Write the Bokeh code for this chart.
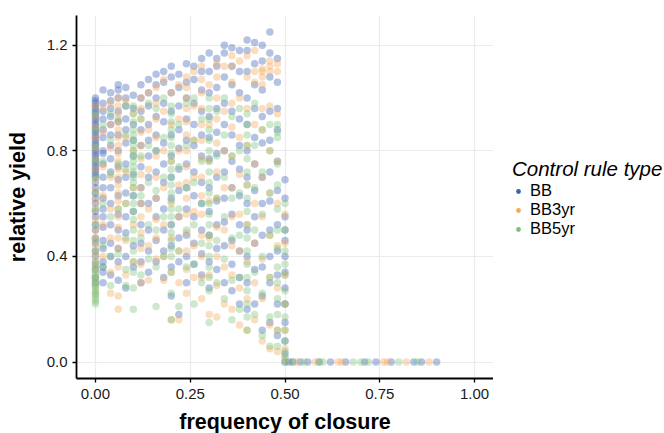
from bokeh.plotting import figure
from bokeh.layouts import row
from bokeh.models import Legend, LegendItem, ColumnDataSource, FixedTicker, Range1d, PrintfTickFormatter
from bokeh.embed import file_html
from bokeh.resources import INLINE

# ---------------- data ----------------
# each entry: (frequency of closure, [relative yields at that frequency])
bb_cols = [
    (0.00, [1.0, 0.99, 0.98, 0.97, 0.96, 0.95, 0.94, 0.93, 0.92, 0.91, 0.90, 0.89, 0.88, 0.87, 0.86, 0.85, 0.84, 0.83, 0.82, 0.81, 0.80, 0.79, 0.78, 0.77, 0.76, 0.75, 0.74, 0.73, 0.72, 0.71, 0.70, 0.68, 0.66, 0.64, 0.62, 0.60, 0.57, 0.55, 0.52, 0.50, 0.47, 0.45, 0.42, 0.40, 0.37, 0.35, 0.32, 0.30]),
    (0.02, [1.03, 0.98, 0.95, 0.92, 0.88, 0.85, 0.80, 0.79, 0.75, 0.70, 0.66, 0.62, 0.58, 0.55, 0.51, 0.46, 0.43, 0.38, 0.36, 0.34, 0.30]),
    (0.04, [1.02, 0.99, 0.96, 0.93, 0.90, 0.86, 0.82, 0.77, 0.72, 0.66, 0.60, 0.52, 0.45, 0.40, 0.33]),
    (0.06, [1.05, 1.03, 1.0, 0.95, 0.91, 0.86, 0.80, 0.74, 0.69, 0.63, 0.56, 0.50, 0.43, 0.38, 0.31]),
    (0.08, [1.04, 1.0, 0.97, 0.92, 0.88, 0.83, 0.75, 0.70, 0.64, 0.55, 0.49, 0.40, 0.28]),
    (0.10, [1.01, 0.96, 0.90, 0.84, 0.78, 0.71, 0.63, 0.57, 0.44, 0.36]),
    (0.12, [1.05, 1.0, 0.95, 0.88, 0.82, 0.74, 0.66, 0.60, 0.52, 0.45, 0.38, 0.30]),
    (0.14, [1.07, 1.02, 0.97, 0.90, 0.84, 0.78, 0.70, 0.60, 0.50, 0.42, 0.34]),
    (0.16, [1.09, 1.05, 1.0, 0.93, 0.86, 0.80, 0.72, 0.62, 0.55, 0.46, 0.38]),
    (0.18, [1.10, 1.06, 0.98, 0.91, 0.83, 0.75, 0.68, 0.58, 0.50, 0.42, 0.32]),
    (0.20, [1.12, 1.08, 1.02, 0.95, 0.86, 0.78, 0.70, 0.62, 0.52, 0.44, 0.36, 0.25]),
    (0.22, [1.09, 1.04, 0.97, 0.88, 0.81, 0.73, 0.65, 0.55, 0.47, 0.38, 0.18]),
    (0.24, [1.13, 1.06, 1.0, 0.92, 0.84, 0.75, 0.66, 0.58, 0.48, 0.40, 0.30]),
    (0.26, [1.12, 1.07, 0.98, 0.90, 0.82, 0.72, 0.63, 0.55, 0.45, 0.37]),
    (0.28, [1.15, 1.10, 1.03, 0.95, 0.86, 0.78, 0.68, 0.60, 0.50, 0.41, 0.33]),
    (0.30, [1.17, 1.10, 1.02, 0.93, 0.85, 0.77, 0.66, 0.57, 0.48, 0.38, 0.28]),
    (0.32, [1.15, 1.12, 1.04, 0.96, 0.87, 0.79, 0.70, 0.61, 0.52, 0.43, 0.35]),
    (0.34, [1.20, 1.17, 1.08, 0.98, 0.90, 0.80, 0.72, 0.62, 0.53, 0.44, 0.30]),
    (0.36, [1.19, 1.12, 1.05, 0.95, 0.86, 0.76, 0.66, 0.56, 0.46, 0.37, 0.27]),
    (0.38, [1.18, 1.10, 1.02, 0.92, 0.82, 0.73, 0.63, 0.52, 0.42, 0.32, 0.22]),
    (0.40, [1.22, 1.18, 1.10, 1.0, 0.90, 0.80, 0.70, 0.60, 0.50, 0.40, 0.30, 0.20]),
    (0.42, [1.21, 1.13, 1.05, 0.96, 0.85, 0.75, 0.65, 0.55, 0.45, 0.35, 0.22]),
    (0.44, [1.20, 1.14, 1.03, 0.93, 0.83, 0.70, 0.60, 0.48, 0.36, 0.25, 0.12]),
    (0.46, [1.25, 1.17, 1.08, 0.95, 0.84, 0.72, 0.61, 0.50, 0.40, 0.30, 0.15]),
    (0.48, [1.15, 1.06, 0.96, 0.88, 0.76, 0.65, 0.52, 0.42, 0.33, 0.22, 0.10]),
    (0.50, [0.69, 0.62, 0.55, 0.50, 0.46, 0.40, 0.34, 0.28, 0.22, 0.15, 0.08, 0.03, 0.0]),
]
bb_zero_x = [0.51, 0.52, 0.54, 0.56, 0.59, 0.62, 0.66, 0.71, 0.74, 0.78, 0.84, 0.86, 0.90]

bb3_cols = [
    (0.00, [0.97, 0.93, 0.89, 0.85, 0.81, 0.77, 0.73, 0.69, 0.65, 0.61, 0.58, 0.54, 0.50, 0.47, 0.44, 0.41, 0.38, 0.35, 0.32, 0.29, 0.26]),
    (0.02, [0.96, 0.87, 0.74, 0.63, 0.52, 0.40]),
    (0.04, [0.98, 0.90, 0.81, 0.70, 0.58, 0.47, 0.34, 0.26]),
    (0.06, [1.0, 0.97, 0.94, 0.91, 0.88, 0.85, 0.82, 0.79, 0.76, 0.73, 0.70, 0.67, 0.64, 0.61, 0.58, 0.55, 0.51, 0.47, 0.43, 0.36, 0.25, 0.20]),
    (0.08, [0.99, 0.85, 0.72, 0.60, 0.46, 0.33]),
    (0.10, [0.94, 0.80, 0.66, 0.52, 0.38]),
    (0.12, [1.0, 0.96, 0.92, 0.87, 0.82, 0.77, 0.71, 0.66, 0.60, 0.55, 0.49, 0.43, 0.37, 0.30]),
    (0.14, [1.02, 0.88, 0.73, 0.58, 0.44, 0.31]),
    (0.16, [1.04, 0.98, 0.92, 0.85, 0.78, 0.70, 0.62, 0.54, 0.47, 0.39]),
    (0.18, [1.07, 0.95, 0.80, 0.66, 0.52, 0.40, 0.31]),
    (0.20, [1.02, 0.90, 0.76, 0.60, 0.47, 0.34, 0.16]),
    (0.22, [1.05, 0.92, 0.80, 0.67, 0.55, 0.42, 0.30, 0.16]),
    (0.24, [1.08, 1.04, 1.0, 0.96, 0.91, 0.86, 0.80, 0.74, 0.68, 0.62, 0.56, 0.49, 0.42, 0.35, 0.26]),
    (0.26, [1.10, 0.97, 0.84, 0.70, 0.57, 0.44, 0.32]),
    (0.28, [1.12, 1.07, 1.02, 0.96, 0.90, 0.84, 0.77, 0.70, 0.63, 0.56, 0.48, 0.40, 0.32, 0.24]),
    (0.30, [1.05, 0.90, 0.76, 0.61, 0.47, 0.33, 0.18]),
    (0.32, [1.13, 1.08, 1.0, 0.92, 0.83, 0.72, 0.62, 0.51, 0.40, 0.29, 0.17]),
    (0.34, [1.12, 0.95, 0.80, 0.66, 0.50, 0.36, 0.22]),
    (0.36, [1.16, 1.12, 1.06, 0.98, 0.89, 0.78, 0.66, 0.55, 0.44, 0.33, 0.20]),
    (0.38, [1.14, 1.00, 0.85, 0.71, 0.56, 0.42, 0.28, 0.14]),
    (0.40, [1.16, 1.08, 0.96, 0.82, 0.67, 0.52, 0.38, 0.24, 0.12]),
    (0.42, [1.18, 1.10, 1.06, 0.90, 0.75, 0.60, 0.45, 0.30, 0.16]),
    (0.44, [1.11, 1.10, 1.08, 1.05, 0.96, 0.88, 0.70, 0.55, 0.39, 0.24, 0.08]),
    (0.46, [1.14, 1.12, 1.10, 0.97, 0.80, 0.64, 0.48, 0.32, 0.14, 0.05]),
    (0.48, [1.13, 1.10, 0.94, 0.76, 0.60, 0.44, 0.28, 0.12, 0.04]),
    (0.50, [0.56, 0.45, 0.33, 0.22, 0.12, 0.05, 0.01]),
]
bb3_zero_x = [0.53, 0.58, 0.64, 0.65, 0.76, 0.77, 0.82, 0.88]

bb5_cols = [
    (0.00, [0.94, 0.88, 0.82, 0.76, 0.70, 0.64, 0.58, 0.52, 0.46, 0.42, 0.38, 0.36, 0.34, 0.33, 0.32, 0.31, 0.30, 0.29, 0.28, 0.27, 0.26, 0.25, 0.24, 0.23, 0.22]),
    (0.02, [0.90, 0.76, 0.60, 0.44, 0.36]),
    (0.04, [0.94, 0.84, 0.71, 0.55, 0.40, 0.29]),
    (0.06, [0.92, 0.75, 0.58, 0.41]),
    (0.08, [0.97, 0.86, 0.73, 0.60, 0.47, 0.35, 0.29]),
    (0.10, [0.97, 0.94, 0.91, 0.88, 0.86, 0.84, 0.82, 0.80, 0.78, 0.76, 0.74, 0.72, 0.70, 0.68, 0.66, 0.63, 0.60, 0.57, 0.54, 0.50, 0.46, 0.42, 0.38, 0.34, 0.28, 0.20]),
    (0.12, [0.92, 0.78, 0.63, 0.47, 0.33]),
    (0.14, [0.98, 0.82, 0.68, 0.52, 0.39]),
    (0.16, [0.96, 0.80, 0.65, 0.50, 0.36, 0.21]),
    (0.18, [1.0, 0.85, 0.70, 0.55, 0.40]),
    (0.20, [0.97, 0.94, 0.91, 0.88, 0.85, 0.82, 0.79, 0.76, 0.73, 0.70, 0.67, 0.64, 0.61, 0.58, 0.55, 0.52, 0.49, 0.46, 0.43, 0.40, 0.34, 0.26, 0.16]),
    (0.22, [0.90, 0.74, 0.58, 0.42, 0.21]),
    (0.24, [0.98, 0.82, 0.66, 0.50, 0.36]),
    (0.26, [1.0, 0.84, 0.68, 0.52, 0.37, 0.22]),
    (0.28, [0.92, 0.76, 0.60, 0.45, 0.30]),
    (0.30, [1.0, 0.96, 0.92, 0.88, 0.84, 0.80, 0.76, 0.72, 0.68, 0.64, 0.60, 0.56, 0.52, 0.48, 0.44, 0.40, 0.36, 0.32, 0.27, 0.15]),
    (0.32, [0.95, 0.78, 0.62, 0.46, 0.30]),
    (0.34, [1.0, 0.86, 0.70, 0.55, 0.39, 0.24]),
    (0.36, [0.93, 0.78, 0.62, 0.47, 0.31, 0.16]),
    (0.38, [0.96, 0.80, 0.64, 0.48, 0.32, 0.20]),
    (0.40, [0.94, 0.90, 0.86, 0.82, 0.77, 0.72, 0.67, 0.62, 0.57, 0.52, 0.47, 0.42, 0.37, 0.32, 0.27, 0.22, 0.17, 0.12]),
    (0.42, [0.98, 0.82, 0.66, 0.50, 0.34, 0.18]),
    (0.44, [0.88, 0.72, 0.56, 0.40, 0.26, 0.10]),
    (0.46, [0.90, 0.80, 0.64, 0.48, 0.32, 0.17, 0.06]),
    (0.48, [0.90, 0.87, 0.85, 0.75, 0.67, 0.58, 0.50, 0.43, 0.36, 0.30, 0.24, 0.18, 0.12, 0.06]),
    (0.50, [0.60, 0.50, 0.42, 0.37, 0.33, 0.27, 0.22, 0.17, 0.12, 0.08, 0.04, 0.02, 0.0]),
]
bb5_zero_x = [0.52, 0.55, 0.59, 0.60, 0.68, 0.70, 0.72, 0.80, 0.85]

series_names = ["BB", "BB3yr", "BB5yr"]
series_colors = ["#3a62b8", "#f4a95a", "#7dc27b"]
x_ticks = [0.0, 0.25, 0.5, 0.75, 1.0]
y_ticks = [0.0, 0.4, 0.8, 1.2]


def flatten(cols, zero_x):
    xs, ys = [], []
    for x, yl in cols:
        xs += [x] * len(yl)
        ys += list(yl)
    xs += list(zero_x)
    ys += [0.0] * len(zero_x)
    return xs, ys


FONT = "Liberation Sans"

p = figure(frame_width=417, frame_height=363, output_backend="svg", toolbar_location=None,
           x_range=Range1d(-0.05, 1.05), y_range=Range1d(-0.0625, 1.3125),
           min_border_left=76, min_border_top=15, min_border_bottom=54, min_border_right=0)
p.outline_line_color = None
p.background_fill_color = "white"

# legend-only panel on the right (its ranges keep the data out of view)
lg = figure(width=170, height=432, output_backend="svg", toolbar_location=None,
            x_range=Range1d(5, 6), y_range=Range1d(5, 6),
            min_border_left=0, min_border_right=0, min_border_top=0, min_border_bottom=0)
lg.axis.visible = False
lg.grid.visible = False
lg.outline_line_color = None

all_series = [(bb_cols, bb_zero_x), (bb3_cols, bb3_zero_x), (bb5_cols, bb5_zero_x)]
items = []
for (cols, zx), name, col in zip(all_series, series_names, series_colors):
    xs, ys = flatten(cols, zx)
    src = ColumnDataSource(dict(x=xs, y=ys))
    p.scatter("x", "y", source=src, size=7.5, fill_color=col, fill_alpha=0.38, line_color=None)
    key = lg.scatter("x", "y", source=src, size=6, fill_color=col, fill_alpha=1.0, line_color=None)
    items.append(LegendItem(label=name, renderers=[key]))

# axes
for ax in (p.xaxis[0], p.yaxis[0]):
    ax.axis_line_color = "black"
    ax.axis_line_width = 1.8
    ax.major_tick_line_color = "black"
    ax.major_tick_line_width = 1.3
    ax.major_tick_out = 4
    ax.major_tick_in = 0
    ax.minor_tick_line_color = None
    ax.major_label_text_font = FONT
    ax.major_label_text_font_size = "15px"
    ax.major_label_text_color = "#1a1a1a"
    ax.axis_label_text_font = FONT
    ax.axis_label_text_font_style = "bold"
    ax.axis_label_text_font_size = "21.5px"
    ax.axis_label_text_color = "black"

p.xaxis.major_label_standoff = 6
p.yaxis.major_label_standoff = 5
p.xaxis.ticker = FixedTicker(ticks=x_ticks)
p.yaxis.ticker = FixedTicker(ticks=y_ticks)
p.xaxis.formatter = PrintfTickFormatter(format="%.2f")
p.yaxis.formatter = PrintfTickFormatter(format="%.1f")
p.xaxis.axis_label = "frequency of closure"
p.yaxis.axis_label = "relative yield"
p.xaxis.axis_label_standoff = 8
p.yaxis.axis_label_standoff = 14

p.xgrid.ticker = FixedTicker(ticks=x_ticks)
p.ygrid.ticker = FixedTicker(ticks=y_ticks)
p.grid.grid_line_color = "#ebebeb"
p.grid.grid_line_width = 1.2

legend = Legend(items=items, title="Control rule type", location=(19, 136))
legend.title_text_font = FONT
legend.title_text_font_style = "italic"
legend.title_text_font_size = "20.5px"
legend.title_text_color = "black"
legend.title_standoff = 0
legend.label_text_font = FONT
legend.label_text_font_size = "16.5px"
legend.label_text_color = "black"
legend.label_height = 16
legend.label_standoff = 6
legend.glyph_width = 12
legend.glyph_height = 16
legend.spacing = -2
legend.padding = 2
legend.margin = 0
legend.border_line_color = None
legend.background_fill_alpha = 0
lg.add_layout(legend, "center")

layout = row(p, lg, spacing=0)
open("out.html", "w").write(file_html(layout, INLINE))
